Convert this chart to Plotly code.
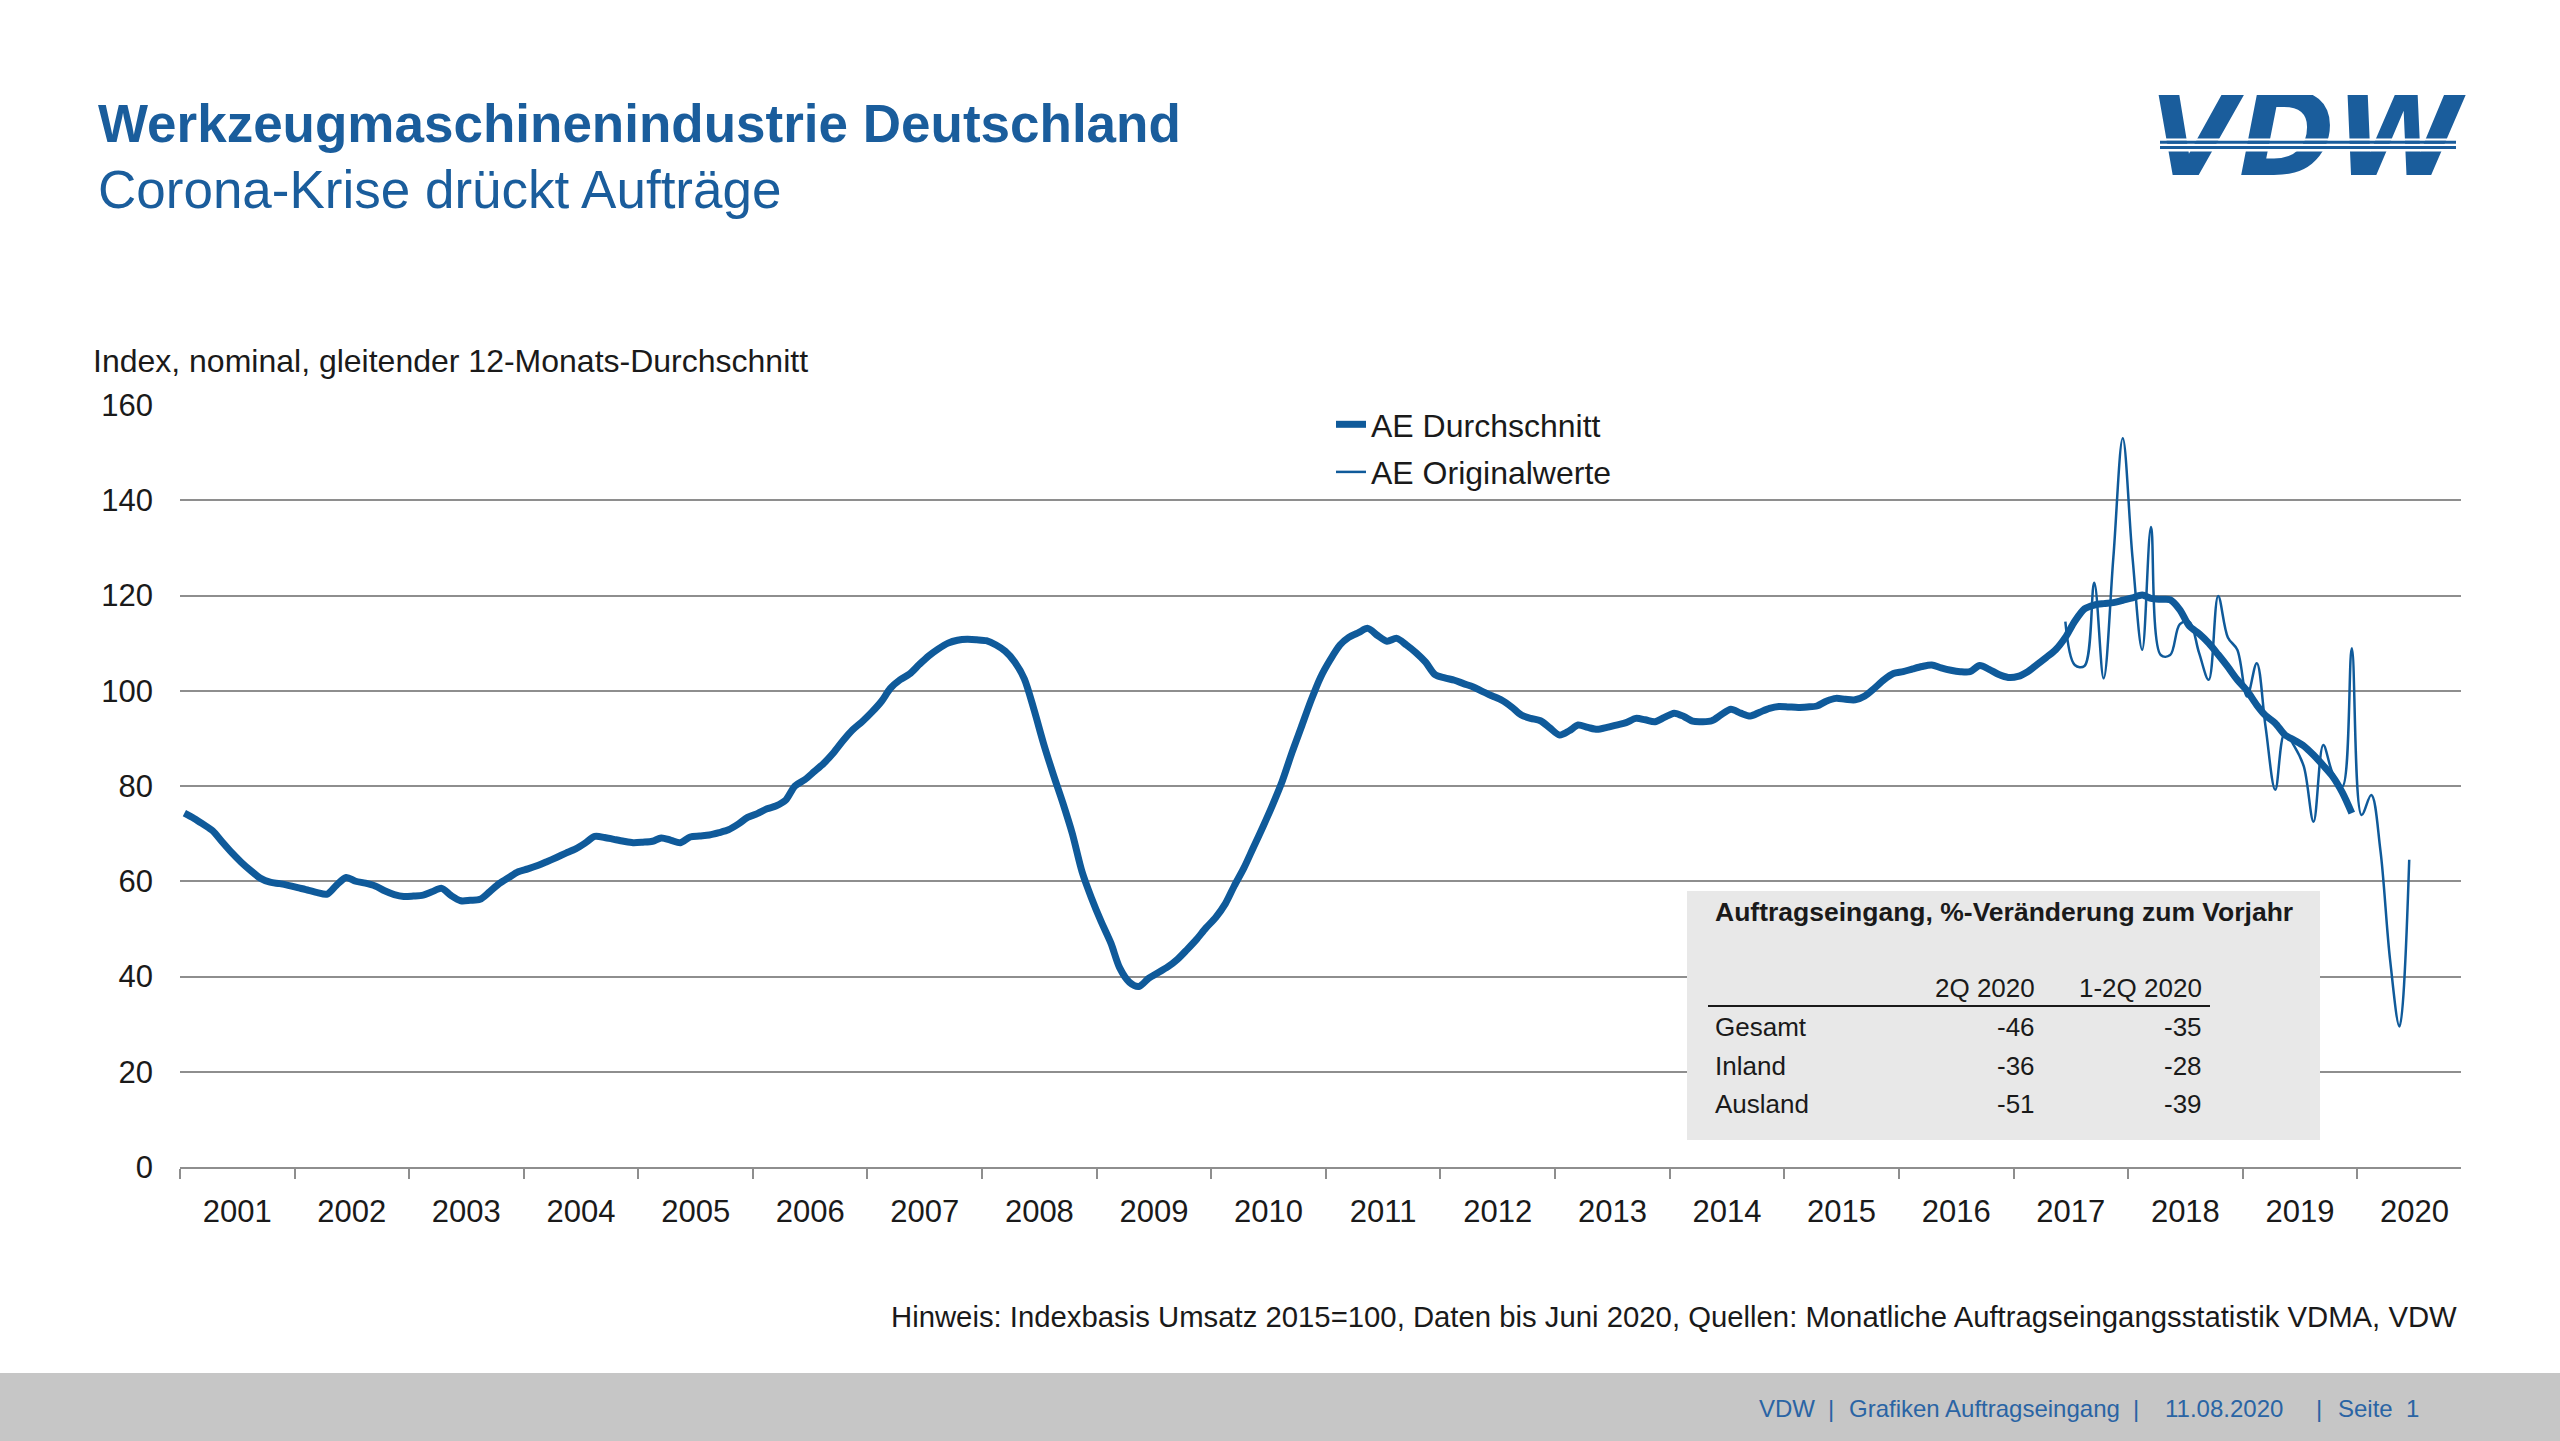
import plotly.graph_objects as go
import pandas as pd

W, H = 2560, 1441

# ---------------- data ----------------
avg_start = "2001-01-01"
avg_values = [
    # 2001
    74.3, 73.2, 72.0, 70.6, 68.3, 66.0, 64.0, 62.2, 60.6, 59.8, 59.5, 59.1,
    # 2002
    58.6, 58.1, 57.6, 57.3, 59.2, 60.8, 60.0, 59.6, 59.0, 58.0, 57.2, 56.8,
    # 2003
    56.9, 57.1, 57.8, 58.5, 57.0, 55.9, 56.0, 56.2, 57.8, 59.5, 60.8, 62.0,
    # 2004
    62.6, 63.3, 64.1, 65.0, 65.9, 66.8, 68.0, 69.4, 69.2, 68.8, 68.4, 68.1,
    # 2005
    68.2, 68.4, 69.1, 68.6, 68.1, 69.3, 69.5, 69.7, 70.2, 70.8, 72.0, 73.4,
    # 2006
    74.2, 75.2, 75.8, 77.0, 80.0, 81.3, 83.0, 84.8, 87.0, 89.5, 91.8, 93.5,
    # 2007
    95.5, 97.8, 100.5, 102.3, 103.5, 105.5, 107.3, 108.8, 110.0, 110.6, 110.8, 110.7,
    # 2008
    110.5, 109.6, 108.3, 106.0, 102.5, 96.0, 89.0, 82.5, 76.4, 70.0, 62.0, 56.5,
    # 2009
    51.5, 47.0, 41.8, 38.8, 37.9, 39.6, 40.8, 42.0, 43.6, 45.6, 47.8, 50.2,
    # 2010
    52.4, 55.3, 59.0, 62.8, 67.1, 71.5, 76.0, 81.0, 87.0, 92.4, 98.0, 102.8,
    # 2011
    106.5, 109.6, 111.2, 112.2, 113.1, 111.6, 110.4, 111.0, 109.6, 108.0, 106.0, 103.4,
    # 2012
    102.7, 102.2, 101.5, 100.8, 99.8, 98.9, 98.0, 96.6, 94.9, 94.2, 93.7, 92.2,
    # 2013
    90.7, 91.6, 92.8, 92.3, 91.9, 92.3, 92.8, 93.3, 94.2, 93.9, 93.5, 94.4,
    # 2014
    95.3, 94.6, 93.6, 93.5, 93.7, 95.0, 96.1, 95.3, 94.7, 95.5, 96.3, 96.7,
    # 2015
    96.6, 96.5, 96.6, 96.8, 97.8, 98.4, 98.2, 98.1, 98.9, 100.5, 102.3, 103.6,
    # 2016
    104.0, 104.6, 105.1, 105.4, 104.8, 104.3, 104.0, 104.0, 105.3, 104.5, 103.4, 102.8,
    # 2017
    103.0, 104.0, 105.4, 107.0, 108.6, 111.2, 114.6, 117.2, 118.0, 118.3, 118.5, 119.0,
    # 2018
    119.5, 120.1, 119.4, 119.2, 119.1, 117.0, 113.6, 112.0, 110.0, 107.6, 105.0, 102.3,
    # 2019
    100.0, 97.0, 94.8, 93.2, 90.8, 89.6, 88.4, 86.5, 84.3, 82.0, 78.6, 74.3,
]

orig_start = "2017-06-01"
orig_values = [
    114.5, 105.4, 105.2, 122.7, 102.6, 128.0, 153.0,            # Jun-Dec 2017
    128.0, 108.6, 134.4, 107.5, 107.5, 114.0, 114.5, 108.0,     # Jan-Aug 2018
    102.3, 119.9, 111.2, 108.6,                                 # Sep-Dec 2018
    98.8, 105.8, 92.5, 79.2, 91.1, 88.3, 84.1, 72.5,            # Jan-Aug 2019
    88.6, 82.7, 79.9, 108.9,                                    # Sep-Dec 2019
    73.9, 78.1, 66.6, 43.5, 29.5, 64.5,                         # Jan-Jun 2020
]

series_names = ["AE Durchschnitt", "AE Originalwerte"]

table_title = "Auftragseingang, %-Veränderung zum Vorjahr"
table_cols = ["2Q 2020", "1-2Q 2020"]
table_rows = ["Gesamt", "Inland", "Ausland"]
table_q2 = [-46, -36, -51]
table_h1 = [-35, -28, -39]

title_text = "Werkzeugmaschinenindustrie Deutschland"
subtitle_text = "Corona-Krise drückt Aufträge"
axis_title = "Index, nominal, gleitender 12-Monats-Durchschnitt"
note_text = ("Hinweis: Indexbasis Umsatz 2015=100, Daten bis Juni 2020, Quellen: "
             "Monatliche Auftragseingangsstatistik VDMA, VDW")
footer_parts = ["VDW", "|", "Grafiken Auftragseingang", "|", "11.08.2020", "|", "Seite", "1"]

# ---------------- styles ----------------
BLUE = "#0F5A9A"
TITLE_BLUE = "#1A5D9C"
GRID = "#8E8E8E"
TXT = "#1A1A1A"
FONT = "Liberation Sans, Arial, sans-serif"


def px(x):
    return x / W


def py(y):
    return 1 - y / H


avg_x = pd.date_range(avg_start, periods=len(avg_values), freq="MS") + pd.Timedelta(days=14)
orig_x = pd.date_range(orig_start, periods=len(orig_values), freq="MS") + pd.Timedelta(days=14)

fig = go.Figure()
fig.add_trace(go.Scatter(
    x=avg_x, y=avg_values, mode="lines", name=series_names[0], legendgroup="a",
    line=dict(color=BLUE, width=7, shape="spline", smoothing=0.8),
))
fig.add_trace(go.Scatter(
    x=orig_x, y=orig_values, mode="lines", name=series_names[1], legendgroup="b",
    line=dict(color=BLUE, width=2.5, shape="spline", smoothing=1.0),
))

# logo text on an invisible overlay axis (so that stripes can be drawn above it)
fig.add_trace(go.Scatter(
    x=[0.5], y=[0.5], mode="text", text=["VDW"], textposition="middle center",
    textfont=dict(family="DejaVu Sans", size=116, color=TITLE_BLUE, weight="bold", style="italic"),
    xaxis="x2", yaxis="y2", showlegend=False, hoverinfo="skip",
))

fig.update_layout(
    width=W, height=H,
    margin=dict(l=0, r=0, t=0, b=0, pad=0, autoexpand=False),
    paper_bgcolor="white", plot_bgcolor="white",
    font=dict(family=FONT, size=31, color=TXT),
    showlegend=True,
    legend=dict(x=px(1331), y=py(397), xanchor="left", yanchor="top",
                font=dict(size=32, color=TXT), bgcolor="rgba(0,0,0,0)",
                traceorder="grouped", tracegroupgap=3),
    xaxis=dict(
        domain=[px(180), px(2461)], type="date",
        range=["2001-01-01", "2020-11-27"],
        tick0="2001-01-01", dtick="M12", tickformat="%Y", ticklabelmode="period",
        ticks="outside", ticklen=10, tickwidth=2, tickcolor=GRID,
        showline=True, linecolor=GRID, linewidth=2,
        showgrid=False, zeroline=False,
        ticklabelstandoff=6,
        tickfont=dict(size=31, color=TXT),
    ),
    yaxis=dict(
        domain=[py(1167), py(405)], range=[0, 160], tick0=0, dtick=20,
        showgrid=True, gridcolor=GRID, gridwidth=2,
        zeroline=False, showline=False, ticks="",
        ticklabelstandoff=26,
        tickfont=dict(size=31, color=TXT),
    ),
    xaxis2=dict(domain=[px(2140), px(2472)], range=[0, 1], visible=False, anchor="y2", fixedrange=True),
    yaxis2=dict(domain=[py(197), py(95)], range=[0, 1], visible=False, anchor="x2", fixedrange=True),
)

shapes = []
# logo stripes
for y0, y1 in [(138.5, 140.8), (143.8, 146.1), (149.1, 151.4)]:
    shapes.append(dict(type="rect", xref="paper", yref="paper", layer="above",
                       x0=px(2140), x1=px(2475), y0=py(y1), y1=py(y0),
                       fillcolor="white", line=dict(width=0)))
for y0, y1 in [(140.8, 143.8), (146.1, 149.1)]:
    shapes.append(dict(type="rect", xref="paper", yref="paper", layer="above",
                       x0=px(2160), x1=px(2456), y0=py(y1), y1=py(y0),
                       fillcolor=TITLE_BLUE, line=dict(width=0)))
# table box
shapes.append(dict(type="rect", xref="paper", yref="paper", layer="above",
                   x0=px(1687), x1=px(2320), y0=py(1140), y1=py(891),
                   fillcolor="#E8E8E8", line=dict(width=0)))
shapes.append(dict(type="line", xref="paper", yref="paper", layer="above",
                   x0=px(1708), x1=px(2210), y0=py(1006), y1=py(1006),
                   line=dict(color="#1A1A1A", width=2)))
# footer bar
shapes.append(dict(type="rect", xref="paper", yref="paper", layer="below",
                   x0=0, x1=1, y0=0, y1=py(1373),
                   fillcolor="#C6C6C6", line=dict(width=0)))

annotations = []


def add_text(text, x, y, size, color=TXT, xanchor="left", yanchor="middle", bold=False):
    annotations.append(dict(
        text=f"<b>{text}</b>" if bold else text,
        x=px(x), y=py(y), xref="paper", yref="paper",
        xanchor=xanchor, yanchor=yanchor, showarrow=False,
        font=dict(family=FONT, size=size, color=color),
    ))


add_text(title_text, 96, 124, 53, TITLE_BLUE, bold=True)
add_text(subtitle_text, 96, 189, 53, TITLE_BLUE)
add_text(axis_title, 91, 361, 32)

# table
add_text(table_title, 1713, 912, 26.5, bold=True)
add_text(table_cols[0], 2037, 988, 26, xanchor="right")
add_text(table_cols[1], 2204, 988, 26, xanchor="right")
row_y = [1027, 1066, 1104]
for name, a, b, yy in zip(table_rows, table_q2, table_h1, row_y):
    add_text(name, 1713, yy, 26)
    add_text(str(a), 2037, yy, 26, xanchor="right")
    add_text(str(b), 2204, yy, 26, xanchor="right")

# note
add_text(note_text, 2459, 1316, 29.3, xanchor="right")

# footer
footer_x = [1757, 1826, 1847, 2131, 2163, 2314, 2336, 2404]
for t, xx in zip(footer_parts, footer_x):
    add_text(t, xx, 1408, 24, "#2A64A4")

fig.update_layout(shapes=shapes, annotations=annotations)

post = (
    "document.documentElement.style.margin='0';"
    "document.documentElement.style.overflow='hidden';"
    "document.body.style.margin='0';"
    "document.body.style.padding='0';"
    "document.body.style.overflow='hidden';"
    "var gd=document.getElementById('{plot_id}');"
    "gd.style.position='absolute';gd.style.left='0px';gd.style.top='0px';"
)
fig.write_html("out.html", post_script=post, config={"displayModeBar": False})
